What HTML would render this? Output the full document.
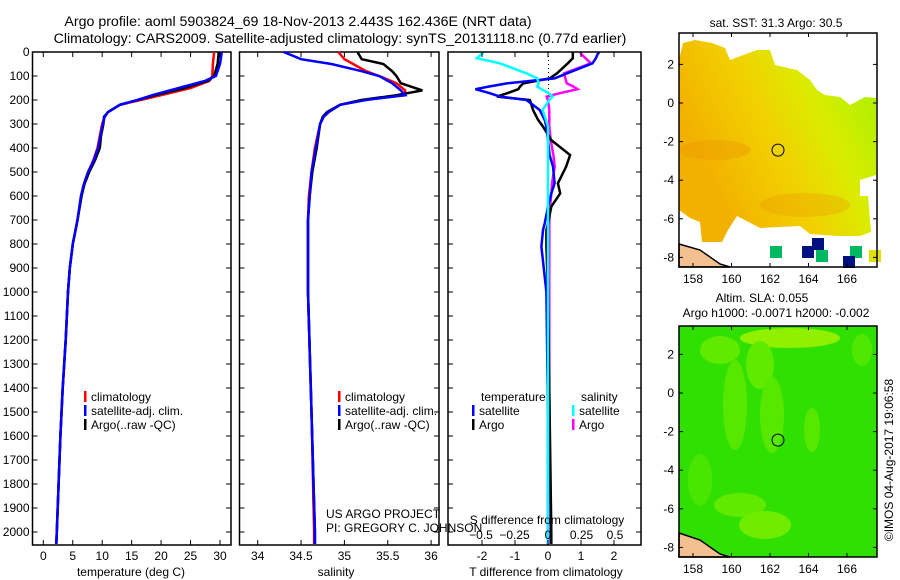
<!DOCTYPE html>
<html><head><meta charset="utf-8"><style>
body{margin:0;background:#fff;}
svg{display:block;font-family:"Liberation Sans",sans-serif;}
text{font-size:12px;fill:#000;}
</style></head><body>
<svg id="c" width="900" height="580" xmlns="http://www.w3.org/2000/svg">
<defs>
<linearGradient id="sstg" x1="0.15" y1="0.7" x2="1" y2="0.3">
<stop offset="0" stop-color="#f2b000"/><stop offset="0.4" stop-color="#f2d000"/><stop offset="0.7" stop-color="#daec00"/><stop offset="1" stop-color="#b0f000"/>
</linearGradient>
</defs>
<text x="298" y="26" text-anchor="middle" style="font-size:14.2px">Argo profile: aoml 5903824_69 18-Nov-2013 2.443S 162.436E (NRT data)</text>
<text x="340" y="43" text-anchor="middle" style="font-size:14.2px">Climatology: CARS2009. Satellite-adjusted climatology: synTS_20131118.nc (0.77d earlier)</text>
<g id="p1"></g>
<g id="p2"></g>
<g id="p3"></g>
<g id="m1"></g>
<g id="m2"></g>
<text transform="translate(893,460) rotate(-90)" text-anchor="middle">©IMOS 04-Aug-2017 19:06:58</text>
</svg>
<script>
// ---- data ----
const depthT = [0,50,100,120,150,180,200,220,250,270,300,350,400,450,500,550,600,700,800,900,1000,1200,1400,1600,1800,2000,2050];
const tempArgo = [29.8,29.6,29.0,28.0,24,19,16,13,11,10.3,10.2,9.8,9.6,8.8,7.8,7.0,6.5,5.8,5.0,4.5,4.2,3.8,3.3,2.9,2.6,2.3,2.2];
const tempClim = [29.0,28.8,28.7,28.2,25,20,16.5,13,11,10.4,10.0,9.6,9.2,8.5,7.6,6.9,6.4,5.8,5.0,4.5,4.2,3.8,3.3,2.9,2.6,2.3,2.2];
const tempSat  = [30.3,30.0,29.3,27.5,23,18.5,16,13,11,10.4,10.1,9.7,9.3,8.6,7.6,6.9,6.4,5.8,5.0,4.5,4.2,3.8,3.3,2.9,2.6,2.3,2.2];
const depthS = [0,30,50,80,100,130,160,180,200,220,250,270,300,400,500,600,700,1000,1500,2000,2050];
const salArgo = [35.15,35.2,35.45,35.55,35.6,35.65,35.9,35.6,35.2,34.95,34.8,34.75,34.72,34.68,34.63,34.6,34.58,34.58,34.62,34.66,34.66];
const salClim = [34.93,35.0,35.1,35.25,35.4,35.6,35.7,35.7,35.2,34.95,34.82,34.76,34.72,34.66,34.62,34.59,34.58,34.58,34.62,34.65,34.65];
const salSat  = [34.3,34.5,34.85,35.2,35.4,35.55,35.65,35.7,35.25,34.95,34.82,34.76,34.72,34.67,34.62,34.6,34.58,34.58,34.62,34.66,34.66];
const depthD = [0,10,26,47,89,110,131,144,155,170,186,200,242,283,311,367,429,478,547,589,644,714,742,811,1000,1500,2000,2050];
const dTsat  = [1.55,1.5,1.45,1.35,0.57,0.2,-1.25,-1.8,-2.2,-1.8,-1.45,-0.65,-0.25,-0.1,-0.05,0.0,0.05,0.15,0.2,0.1,0.0,-0.1,-0.15,-0.2,-0.05,0.0,0.0,0.0];
const dTargo = [0.75,0.75,0.75,0.6,0.27,0.05,-0.75,-0.85,-0.9,-1.2,-1.55,-0.55,-0.45,-0.3,-0.15,0.1,0.67,0.55,0.3,0.37,0.1,0.0,-0.05,-0.05,0.0,0.05,0.1,0.1];
const dSargo = [0.24,0.25,0.28,0.32,0.12,0.13,0.14,0.19,0.22,0.1,-0.01,0.0,0.01,0.01,0.01,0.02,0.04,0.05,0.03,0.025,0.015,0.01,0.01,0.01,0.01,0.01,0.01,0.01];
const dSsat  = [-0.48,-0.5,-0.53,-0.36,-0.16,-0.08,-0.07,-0.08,-0.05,0.0,0.035,0.01,-0.04,-0.015,0.0,0.0,0.0,0.0,0.0,0.0,0.0,0.0,0.0,0.0,0.0,0.0,0.0,0.0];
const depthTicks = [0,100,200,300,400,500,600,700,800,900,1000,1100,1200,1300,1400,1500,1600,1700,1800,1900,2000];
const tempTicks = [0,5,10,15,20,25,30];
const salTicks = [34,34.5,35,35.5,36];
const tdTicks = [-2,-1,0,1,2];
const sdTicks = [-0.5,-0.25,0,0.25,0.5];
const lonTicks = [158,160,162,164,166];
const latTicks = [2,0,-2,-4,-6,-8];

const NS='http://www.w3.org/2000/svg';
function mk(parent,tag,attrs,txt){const e=document.createElementNS(NS,tag);for(const k in attrs)e.setAttribute(k,attrs[k]);if(txt!==undefined)e.textContent=txt;parent.appendChild(e);return e;}
const yD = d => 52 + 0.24*d;
const Y0=52, Y1=545;

function frame(g,x0,x1,y0,y1){
  const r=mk(g,'rect',{x:x0,y:y0,width:x1-x0,height:y1-y0,fill:'none',stroke:'#000','stroke-width':1.5});
  
  
}
function line(g,xs,ds,sx,color,name,w){
  const pts=xs.map((v,i)=>sx(v).toFixed(1)+','+yD(ds[i]).toFixed(1)).join(' ');
  const p=mk(g,'polyline',{points:pts,fill:'none',stroke:color,'stroke-width':w||2.5});
  
  
}
function depthAxis(g,x0,x1,labels){
  depthTicks.forEach(d=>{
    mk(g,'line',{x1:x0,y1:yD(d),x2:x0+5,y2:yD(d),stroke:'#000'});
    mk(g,'line',{x1:x1,y1:yD(d),x2:x1-5,y2:yD(d),stroke:'#000'});
    if(labels){const t=mk(g,'text',{x:x0-3,y:yD(d)+4,'text-anchor':'end'},String(d));
      
      }
  });
}
function xAxis(g,ticks,sx,yLab){
  ticks.forEach(v=>{
    const x=sx(v);
    mk(g,'line',{x1:x,y1:Y0,x2:x,y2:Y0+5,stroke:'#000'});
    mk(g,'line',{x1:x,y1:Y1,x2:x,y2:Y1-5,stroke:'#000'});
    if(yLab){const t=mk(g,'text',{x:x,y:yLab,'text-anchor':'middle'},String(v));
      
      }
  });
}
function legend(g,x,y,items){
  items.forEach((it,i)=>{
    const r=mk(g,'rect',{x:x,y:y+i*14-10,width:2.5,height:11,fill:it[0]});
    
    
    const t=mk(g,'text',{x:x+7,y:y+i*14},it[1]);
    
    
  });
}

// Panel 1
const p1=document.getElementById('p1');
const sxT=v=>43.3+5.89*v;
frame(p1,32.5,231,Y0,Y1);
depthAxis(p1,32.5,231,true);
xAxis(p1,tempTicks,sxT,560);
line(p1,tempClim,depthT,sxT,'#f00','climatology-temp-line');
line(p1,tempArgo,depthT,sxT,'#000','argo-temp-line');
line(p1,tempSat,depthT,sxT,'#00f','satellite-temp-line');
legend(p1,84,401,[['#f00','climatology'],['#00f','satellite-adj. clim.'],['#000','Argo(..raw -QC)']]);
mk(p1,'text',{x:131,y:576,'text-anchor':'middle'},'temperature (deg C)');

// Panel 2
const p2=document.getElementById('p2');
const sxS=v=>257.7+86.7*(v-34);
frame(p2,239.5,439,Y0,Y1);
depthAxis(p2,239.5,439,false);
xAxis(p2,salTicks,sxS,560);
line(p2,salClim,depthS,sxS,'#f00','climatology-salinity-line');
line(p2,salArgo,depthS,sxS,'#000','argo-salinity-line');
line(p2,salSat,depthS,sxS,'#00f','satellite-salinity-line');
legend(p2,338,401,[['#f00','climatology'],['#00f','satellite-adj. clim.'],['#000','Argo(..raw -QC)']]);
mk(p2,'text',{x:336,y:576,'text-anchor':'middle'},'salinity');

// Panel 3
const p3=document.getElementById('p3');
const sxD=v=>548+33*v;
const sxDS=v=>548+134*v;
mk(p3,'line',{x1:548.5,y1:Y0,x2:548.5,y2:Y1,stroke:'#000','stroke-dasharray':'1,3'});
line(p3,dSargo,depthD,sxDS,'#f0f','argo-salinity-diff-line');
line(p3,dTargo,depthD,sxD,'#000','argo-temp-diff-line');
line(p3,dTsat,depthD,sxD,'#00f','satellite-temp-diff-line');
line(p3,dSsat,depthD,sxDS,'#0ff','satellite-salinity-diff-line');
frame(p3,448,641,Y0,Y1);
depthAxis(p3,448,641,false);
xAxis(p3,tdTicks,sxD,560);
sdTicks.forEach(v=>{const t=mk(p3,'text',{x:sxDS(v),y:539,'text-anchor':'middle'},String(v).replace('-','\u2212'));
  
  });
mk(p3,'text',{x:547,y:524,'text-anchor':'middle'},'S difference from climatology');
mk(p3,'text',{x:546,y:576,'text-anchor':'middle'},'T difference from climatology');
legend(p3,472,415,[['#00f','satellite'],['#000','Argo']]);
mk(p3,'text',{x:481,y:401},'temperature');
legend(p3,572,415,[['#0ff','satellite'],['#f0f','Argo']]);
mk(p3,'text',{x:581,y:401},'salinity');
const us=mk(p3,'text',{x:326,y:518},'US ARGO PROJECT');

mk(p3,'text',{x:326,y:532},'PI: GREGORY C. JOHNSON');

// Maps
const lonX=v=>693+19.25*(v-158);
function mapAxes(g,top,lat0y){
  const latY=v=>lat0y-19.3*v;
  const bot = top<100?267:557;
  lonTicks.forEach(v=>{const x=lonX(v);
    mk(g,'line',{x1:x,y1:top,x2:x,y2:top+4,stroke:'#000'});
    mk(g,'line',{x1:x,y1:bot,x2:x,y2:bot-4,stroke:'#000'});
    const t=mk(g,'text',{x:x,y:bot+16,'text-anchor':'middle'},String(v));
    
    });
  latTicks.forEach(v=>{const y=latY(v);
    mk(g,'line',{x1:679,y1:y,x2:683,y2:y,stroke:'#000'});
    mk(g,'line',{x1:877,y1:y,x2:873,y2:y,stroke:'#000'});
    const t=mk(g,'text',{x:674,y:y+4,'text-anchor':'end'},String(v));
    
    });
  return latY;
}
// SST map
const m1=document.getElementById('m1');
mk(m1,'polygon',{points:'679,60 683,43 695,40 712,43 725,48 730,60 757,50 770,50 775,65 797,70 810,80 817,90 825,95 840,97 850,105 865,97 876,98 876,175 860,180 860,196 868,196 871,232 860,236 838,236 810,234 800,226 760,228 737,216 728,230 722,242 702,242 700,222 690,218 679,210',fill:'url(#sstg)'});
mk(m1,'ellipse',{cx:715,cy:150,rx:36,ry:10,fill:'#ea9c00',opacity:0.45});
mk(m1,'ellipse',{cx:805,cy:205,rx:45,ry:12,fill:'#ec9c00',opacity:0.35});
[[776,252,'#00b860'],[808,252,'#001080'],[818,244,'#001080'],[822,256,'#00b860'],[856,252,'#00b860'],[849,262,'#001080'],[875,256,'#e0e000']].forEach(c=>{
  const r=mk(m1,'rect',{x:c[0]-6,y:c[1]-6,width:12,height:12,fill:c[2]});
  
  });
mk(m1,'path',{d:'M679,244 L700,250 L720,264 L730,267 L679,267Z',fill:'#f5c090',stroke:'#000','stroke-width':1.5});
mk(m1,'rect',{x:679,y:33,width:198,height:234,fill:'none',stroke:'#000','stroke-width':1.5});
const lat1=mapAxes(m1,33,103);
mk(m1,'circle',{cx:778,cy:lat1(-2.443),r:6,fill:'none',stroke:'#000'});
mk(m1,'text',{x:776,y:27,'text-anchor':'middle'},'sat. SST: 31.3 Argo: 30.5');
// SLA map
const m2=document.getElementById('m2');
mk(m2,'rect',{x:679,y:326,width:198,height:231,fill:'#30e000'});
[[790,338,50,10,'#90f000'],[720,350,20,14,'#60ea00'],[760,365,14,24,'#60ea00'],[735,405,12,45,'#58e800'],[772,415,12,38,'#58e800'],[740,505,26,12,'#60ea00'],[765,525,26,14,'#70ec00'],[812,430,8,22,'#58e800'],[862,350,10,16,'#50e800'],[700,480,12,26,'#48e600']].forEach(e=>{
  const el=mk(m2,'ellipse',{cx:e[0],cy:e[1],rx:e[2],ry:e[3],fill:e[4]});
  
  });
mk(m2,'path',{d:'M679,533 L700,540 L720,554 L730,557 L679,557Z',fill:'#f5c090',stroke:'#000','stroke-width':1.5});
mk(m2,'rect',{x:679,y:326,width:198,height:231,fill:'none',stroke:'#000','stroke-width':1.5});
const lat2=mapAxes(m2,326,393);
mk(m2,'circle',{cx:778,cy:lat2(-2.443),r:6,fill:'none',stroke:'#000'});
mk(m2,'text',{x:762,y:302,'text-anchor':'middle'},'Altim. SLA: 0.055');
mk(m2,'text',{x:776,y:317,'text-anchor':'middle'},'Argo h1000: -0.0071 h2000: -0.002');
</script>
</body></html>
